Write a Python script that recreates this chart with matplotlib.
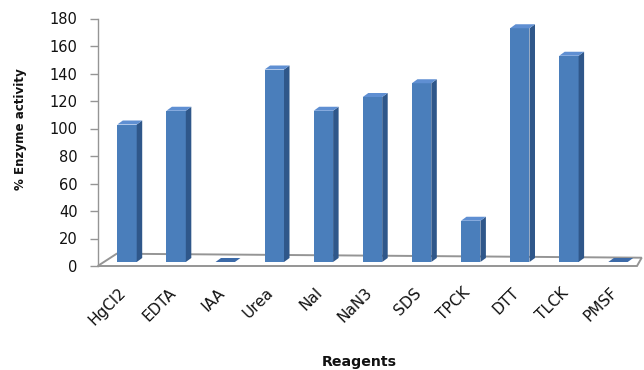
import matplotlib
matplotlib.use("Agg")
import matplotlib.pyplot as plt
from matplotlib.patches import Polygon
from matplotlib.transforms import ScaledTranslation

# Enzyme activity remaining after treatment with each reagent
reagents = ["HgCl2", "EDTA", "IAA", "Urea", "NaI", "NaN3", "SDS",
            "TPCK", "DTT", "TLCK", "PMSF"]
activity = [100, 110, 0, 140, 110, 120, 130, 30, 170, 150, 0]
y_ticks = [0, 20, 40, 60, 80, 100, 120, 140, 160, 180]

W, H = 644, 370
fig = plt.figure(figsize=(W / 100, H / 100), dpi=100)

# plot area in pixels (left, right, bottom, top)
L, R, B, T = 97.7, 637.0, 266.0, 18.5
ax = fig.add_axes([L / W, (H - B) / H, (R - L) / W, (B - T) / H])
xmin, xmax = -0.597, 10.387
ax.set_xlim(xmin, xmax)
ax.set_ylim(0, 180)

# pixel -> data scale factors
sx = (R - L) / (xmax - xmin)
sy = (B - T) / 180.0

front_c = "#4a7ebb"
side_c = "#2f578a"
top_c = "#5f8fd2"
grid_c = "#959595"

# floor of the 3-D plot
floor = Polygon([(xmin, 0), (xmax, 0),
                 (xmax + 4.7 / sx, 8.3 / sy), (xmin + 19.0 / sx, 12.3 / sy)],
                closed=True, facecolor="white", edgecolor=grid_c, lw=1.4,
                clip_on=False, zorder=1)
ax.add_patch(floor)

# 3-D columns: front, side and top faces
bw = 0.395
lift = 4.0 / sy
ddx, ddy = 5.5 / sx, 4.0 / sy
for i, v in enumerate(activity):
    x0, x1 = i - bw / 2, i + bw / 2
    y0, y1 = lift, v + lift
    if v > 0:
        ax.add_patch(Polygon([(x0, y0), (x1, y0), (x1, y1), (x0, y1)],
                             facecolor=front_c, edgecolor="none",
                             clip_on=False, zorder=3))
        ax.add_patch(Polygon([(x1, y0), (x1 + ddx, y0 + ddy),
                              (x1 + ddx, y1 + ddy), (x1, y1)],
                             facecolor=side_c, edgecolor="none",
                             clip_on=False, zorder=3))
    ax.add_patch(Polygon([(x0, y1), (x1, y1), (x1 + ddx, y1 + ddy),
                          (x0 + ddx, y1 + ddy)],
                         facecolor=top_c if v > 0 else "#3c6aa8",
                         edgecolor="none", clip_on=False, zorder=3))

# axes styling
for s in ("top", "right", "bottom"):
    ax.spines[s].set_visible(False)
ax.spines["left"].set_color(grid_c)
ax.spines["left"].set_linewidth(1.0)

ax.set_yticks(y_ticks)
ax.set_yticklabels([str(t) for t in y_ticks], fontsize=10.5,
                   family="DejaVu Sans", color="#111111")
ax.tick_params(axis="y", direction="out", length=5.8, width=1.0,
               color=grid_c, pad=8.6)

ax.set_xticks(range(len(reagents)))
ax.set_xticklabels(reagents, rotation=45, ha="right", va="center",
                   rotation_mode="anchor", fontsize=11,
                   family="DejaVu Sans", color="#111111")
ax.tick_params(axis="x", length=0, pad=17.5)
shift = ScaledTranslation(-3 / 100, 0, fig.dpi_scale_trans)
for lab in ax.get_xticklabels():
    lab.set_transform(lab.get_transform() + shift)

ax.set_ylabel("% Enzyme activity", fontsize=8.6, fontweight="bold",
              family="DejaVu Sans", color="#111111")
ax.yaxis.set_label_coords(-0.131, 0.554)
ax.set_xlabel("Reagents", fontsize=10.2, fontweight="bold",
              family="DejaVu Sans", color="#111111")
ax.xaxis.set_label_coords(0.4845, -0.3576)

ax.patch.set_visible(False)
fig.savefig("out.png", dpi=100, facecolor="white")
